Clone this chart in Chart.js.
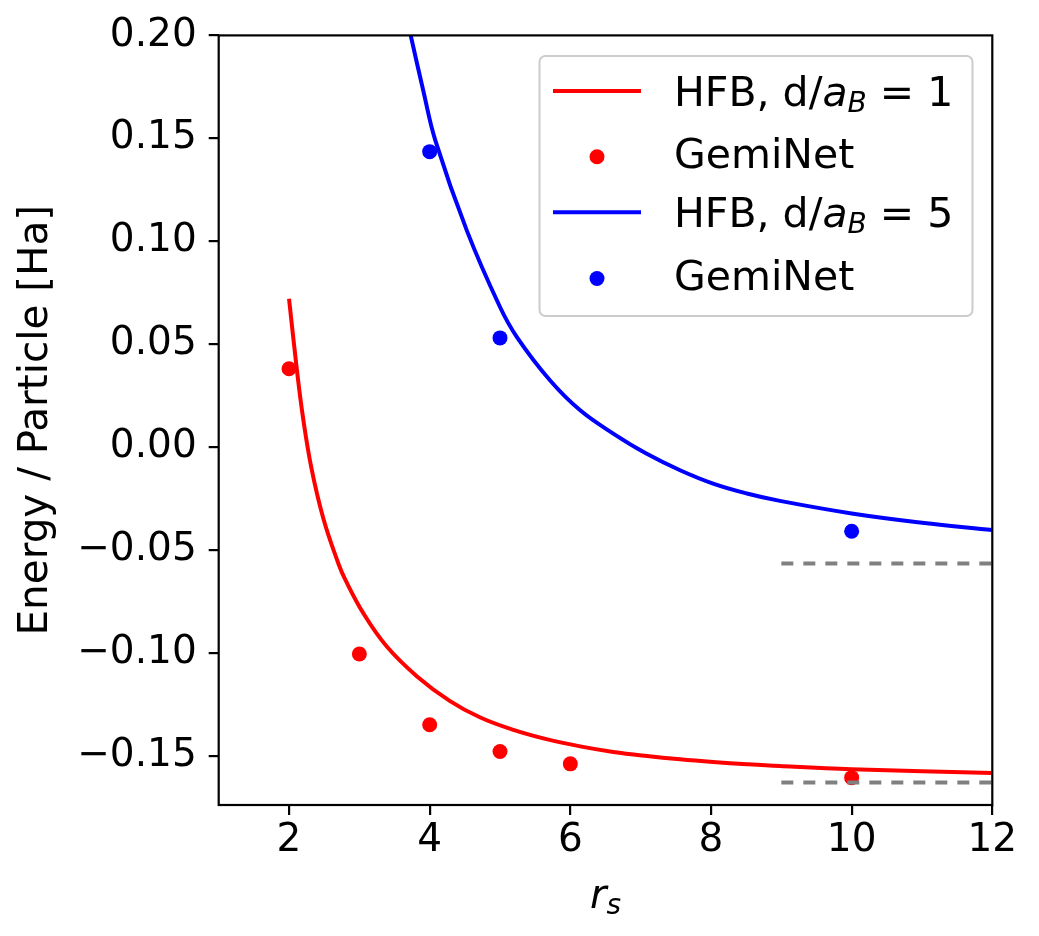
<!DOCTYPE html>
<html>
<head>
<meta charset="utf-8">
<script src="https://cdn.jsdelivr.net/npm/chart.js@4.4.0/dist/chart.umd.min.js"></script>
<style>
  html, body { margin: 0; padding: 0; background: #fff; }
  #wrap { position: relative; width: 1039px; height: 936px; }
</style>
</head>
<body>
<div id="wrap"><canvas id="energyChart"></canvas></div>
<script>
// GemiNet points
var rsD1 = [2, 3, 4, 5, 6, 10];
var gemiD1 = [0.038, -0.1006, -0.135, -0.148, -0.154, -0.1607];
var rsD5 = [4, 5, 10];
var gemiD5 = [0.1435, 0.053, -0.041];

// HFB curves
var hfbD1X = [2.0, 2.11, 2.20, 2.32, 2.49, 2.70, 2.80, 3.06, 3.39, 3.82, 4.29, 4.72, 5.19, 5.66, 6.14, 6.61, 7.09, 7.56, 8.03, 8.51, 8.98, 10, 12];
var hfbD1Y = [0.072, 0.038, 0.014, -0.0105, -0.035, -0.0565, -0.0645, -0.081, -0.097, -0.1115, -0.1235, -0.1315, -0.1375, -0.1420, -0.1455, -0.1482, -0.1502, -0.1518, -0.1531, -0.1542, -0.1551, -0.1566, -0.1585];
var hfbD5X = [3.73, 3.91, 4.08, 4.53, 5.0, 5.24, 5.71, 6.14, 6.61, 7.08, 7.56, 8.03, 8.51, 8.98, 10, 11, 12];
var hfbD5Y = [0.200, 0.173, 0.149, 0.105, 0.068, 0.0534, 0.0324, 0.0178, 0.0065, -0.0032, -0.0113, -0.0178, -0.0226, -0.0262, -0.0323, -0.0368, -0.0404];

// grey dashed reference levels, drawn from rs = 9 to 12
var refX = [9, 12];
var refLevels = [-0.0566, -0.1631];

var xTicks = [2, 4, 6, 8, 10, 12];
var yTicks = [-0.15, -0.10, -0.05, 0.00, 0.05, 0.10, 0.15, 0.20];

var FONT = '"DejaVu Sans", "Noto Sans", sans-serif';

function toPoints(xs, ys) {
  return xs.map(function(x, i) { return { x: x, y: ys[i] }; });
}

// split "a_B" into italic a + subscript italic B
function richParts(label) {
  var parts = [];
  label.split(/(a_B)/).forEach(function(p) {
    if (p === 'a_B') {
      parts.push({ t: 'a', font: 'italic 41px ' + FONT, dy: 0 });
      parts.push({ t: 'B', font: 'italic 28px ' + FONT, dy: 6 });
    } else if (p) {
      parts.push({ t: p, font: '41px ' + FONT, dy: 0 });
    }
  });
  return parts;
}

function drawParts(ctx, parts, x, base) {
  parts.forEach(function(p) {
    ctx.font = p.font;
    ctx.fillText(p.t, x, base + p.dy);
    x += ctx.measureText(p.t).width;
  });
  return x;
}

var datasets = [
  {
    label: 'HFB, d/a_B = 1', inLegend: true, showLine: true,
    data: toPoints(hfbD1X, hfbD1Y),
    borderColor: '#ff0000', borderWidth: 4, pointRadius: 0,
    tension: 0.4, order: 1
  },
  {
    label: 'GemiNet', inLegend: true, showLine: false,
    data: toPoints(rsD1, gemiD1),
    pointRadius: 7.5, pointBackgroundColor: '#ff0000', pointBorderWidth: 0,
    backgroundColor: '#ff0000', order: 2
  },
  {
    label: 'HFB, d/a_B = 5', inLegend: true, showLine: true,
    data: toPoints(hfbD5X, hfbD5Y),
    borderColor: '#0000ff', borderWidth: 4, pointRadius: 0,
    tension: 0.4, order: 1
  },
  {
    label: 'GemiNet', inLegend: true, showLine: false,
    data: toPoints(rsD5, gemiD5),
    pointRadius: 7.5, pointBackgroundColor: '#0000ff', pointBorderWidth: 0,
    backgroundColor: '#0000ff', order: 2
  }
];

refLevels.forEach(function(lv) {
  datasets.push({
    label: 'ref', inLegend: false, showLine: true,
    data: toPoints(refX, [lv, lv]),
    borderColor: '#808080', borderWidth: 4, borderDash: [12, 10],
    pointRadius: 0, order: 0
  });
});

// frame, x label and legend
var extras = {
  id: 'extras',
  afterDraw: function(chart) {
    var ctx = chart.ctx, a = chart.chartArea;
    ctx.save();
    ctx.strokeStyle = '#000';
    ctx.lineWidth = 2.2;
    ctx.strokeRect(a.left, a.top, a.right - a.left, a.bottom - a.top);

    // x label: r_s
    ctx.fillStyle = '#000';
    ctx.textBaseline = 'alphabetic';
    ctx.textAlign = 'left';
    var cx = (a.left + a.right) / 2;
    ctx.font = 'italic 40px ' + FONT;
    var wr = ctx.measureText('r').width;
    ctx.font = 'italic 28px ' + FONT;
    var ws = ctx.measureText('s').width;
    var x0 = cx - (wr + ws) / 2;
    ctx.font = 'italic 40px ' + FONT;
    ctx.fillText('r', x0, 908);
    ctx.font = 'italic 28px ' + FONT;
    ctx.fillText('s', x0 + wr, 914);

    // legend
    var bx = 539.5, by = 56, bw = 433, bh = 260;
    ctx.beginPath();
    ctx.roundRect(bx, by, bw, bh, 6);
    ctx.fillStyle = 'rgba(255,255,255,0.8)';
    ctx.fill();
    ctx.strokeStyle = '#cccccc';
    ctx.lineWidth = 2;
    ctx.stroke();

    var rows = [105.5, 168.3, 226.7, 290];
    var items = chart.data.datasets.filter(function(d) { return d.inLegend; });
    items.forEach(function(ds, i) {
      var base = rows[i];
      if (ds.showLine) {
        ctx.beginPath();
        ctx.moveTo(553, base - 14.5);
        ctx.lineTo(641, base - 14.5);
        ctx.strokeStyle = ds.borderColor;
        ctx.lineWidth = 4;
        ctx.stroke();
      } else {
        ctx.beginPath();
        ctx.arc(597, base - 11.5, 7.5, 0, Math.PI * 2);
        ctx.fillStyle = ds.pointBackgroundColor;
        ctx.fill();
      }
      ctx.fillStyle = '#000';
      drawParts(ctx, richParts(ds.label), 674, base);
    });
    ctx.restore();
  }
};

var ctx = document.getElementById('energyChart').getContext('2d');
var energyChart = new Chart(ctx, {
  type: 'scatter',
  data: { datasets: datasets },
  plugins: [extras],
  options: {
    responsive: true,
    maintainAspectRatio: false,
    animation: false,
    events: [],
    layout: { padding: { left: 0, top: 34.7, right: 46.7, bottom: 0 } },
    plugins: { legend: { display: false }, tooltip: { enabled: false } },
    scales: {
      x: {
        type: 'linear', min: 1, max: 12,
        afterBuildTicks: function(scale) {
          scale.ticks = xTicks.map(function(v) { return { value: v }; });
        },
        afterFit: function(scale) { scale.height = 131; },
        border: { display: false },
        grid: { drawOnChartArea: false, drawTicks: true, tickLength: 10, lineWidth: 2.2, tickWidth: 2.2, tickColor: '#000' },
        ticks: {
          color: '#000', padding: 2, maxRotation: 0,
          font: { family: FONT, size: 39 },
          callback: function(v) { return String(v); }
        }
      },
      y: {
        type: 'linear', min: -0.174, max: 0.2,
        afterBuildTicks: function(scale) {
          scale.ticks = yTicks.map(function(v) { return { value: v }; });
        },
        afterFit: function(scale) { scale.width = 218.7; },
        border: { display: false },
        grid: { drawOnChartArea: false, drawTicks: true, tickLength: 10, lineWidth: 2.2, tickWidth: 2.2, tickColor: '#000' },
        ticks: {
          color: '#000', padding: 12,
          font: { family: FONT, size: 39 },
          callback: function(v) { return v.toFixed(2).replace('-', '\u2212'); }
        },
        title: {
          display: true, text: 'Energy / Particle [Ha]', color: '#000',
          font: { family: FONT, size: 40.5 },
          padding: { top: 12, bottom: 0 }
        }
      }
    }
  }
});
</script>
</body>
</html>
